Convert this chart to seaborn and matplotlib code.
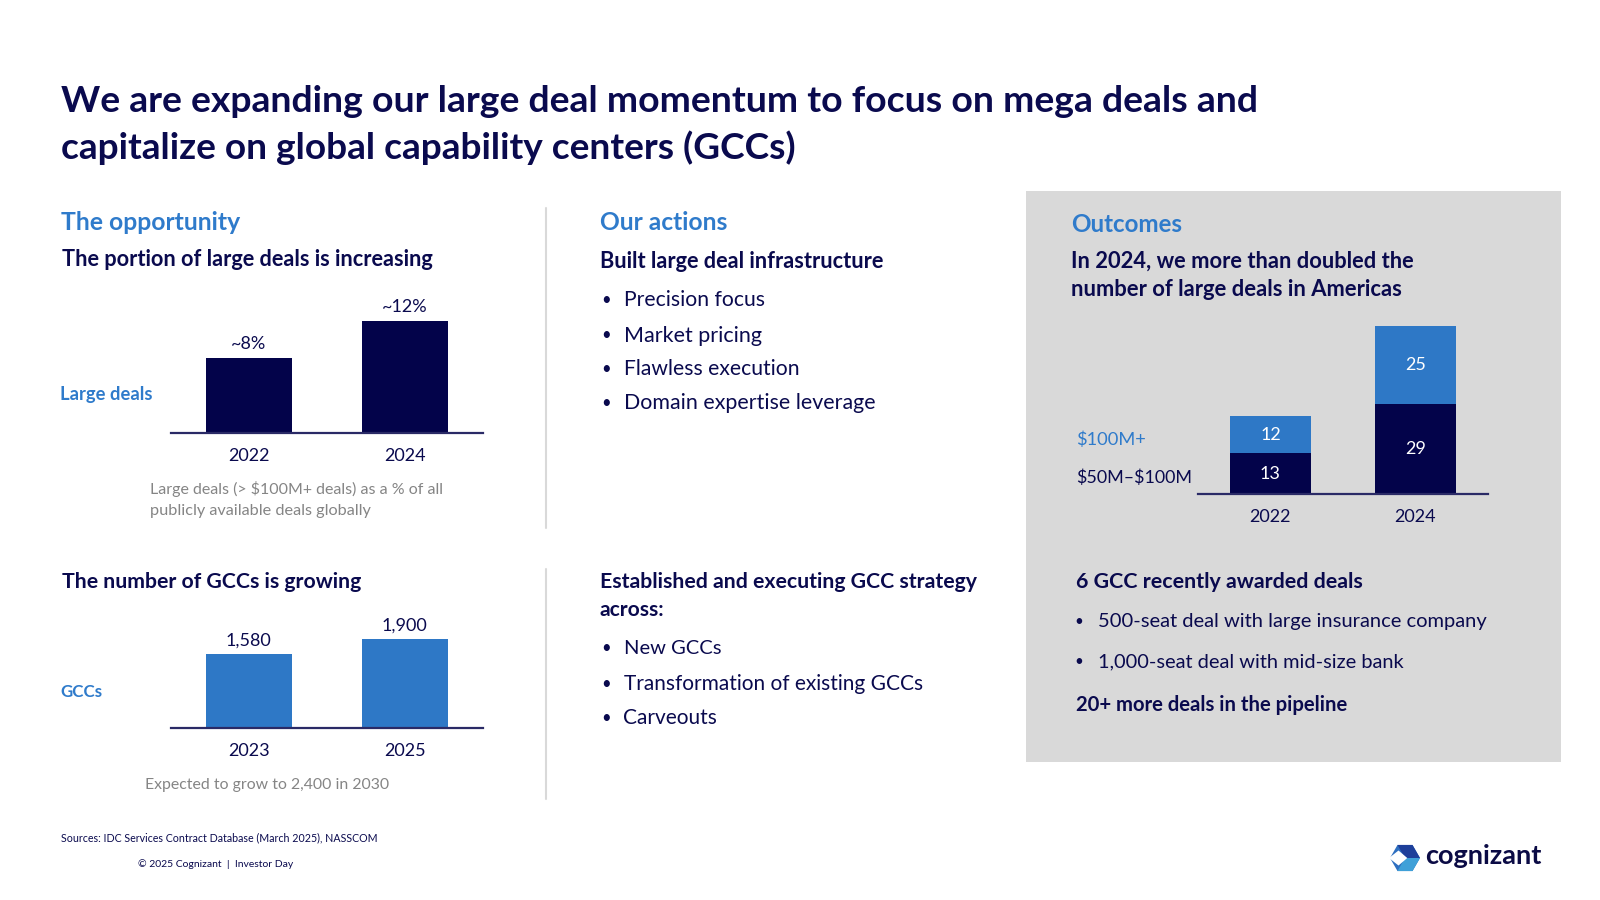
import matplotlib
matplotlib.use("Agg")
import matplotlib.pyplot as plt
import seaborn as sns
from matplotlib.patches import Rectangle, Polygon
from matplotlib.lines import Line2D

# ---------------- data ----------------
large_years = ["2022", "2024"]
large_share = [8, 12]
large_labels = ["~8%", "~12%"]

gcc_years = ["2023", "2025"]
gcc_counts = [1580, 1900]
gcc_labels = ["1,580", "1,900"]

am_years = ["2022", "2024"]
deals_50_100 = [13, 29]
deals_100_plus = [12, 25]

actions_1 = ["Precision focus", "Market pricing", "Flawless execution", "Domain expertise leverage"]
actions_1_w = [141, 138, 175.5, 251]
actions_2 = ["New GCCs", "Transformation of existing GCCs", "Carveouts"]
actions_2_w = [97, 300, 94]
outcomes_bullets = ["500-seat deal with large insurance company", "1,000-seat deal with mid-size bank"]
outcomes_bullets_w = [389, 306]

# ---------------- style ----------------
sns.set_theme(style="white")
plt.rcParams['font.family'] = ['Lato', 'DejaVu Sans']

NAVY = "#03034A"
NAVY_T = "#0A0A4E"
BLUE = "#2E78C6"
BLUE_T = "#2F7BCB"
GREY_T = "#858585"
BOX = "#D9D9D9"
DIV = "#D9D9D9"
LINE = "#2A2A66"

W, H = 1600, 900
fig = plt.figure(figsize=(16, 9), dpi=100)
fig.patch.set_facecolor("white")
renderer = fig.canvas.get_renderer()


def fx(x):
    return x / W


def fy(y):
    return 1 - y / H


def txt(x, y, s, size, color, weight="normal", ha="left", va="center", width=None):
    t = fig.text(fx(x), fy(y), s, fontsize=size, color=color, fontweight=weight,
                 ha=ha, va=va, parse_math=False)
    if width:
        w = t.get_window_extent(renderer).width
        t.set_fontsize(size * width / w)
    return t


def add_ax(left, right, top, bottom):
    ax = fig.add_axes([fx(left), fy(bottom), (right - left) / W, (bottom - top) / H])
    ax.set_facecolor("none")
    ax.set_zorder(2)
    return ax


def style_ax(ax, ytop, pad=11):
    ax.set_xlim(-0.5, 1.5)
    ax.set_ylim(0, ytop)
    for s in ["top", "right", "left"]:
        ax.spines[s].set_visible(False)
    ax.spines["bottom"].set_color(LINE)
    ax.spines["bottom"].set_linewidth(1.6)
    ax.set_yticks([])
    ax.set_xlabel("")
    ax.set_ylabel("")
    ax.tick_params(axis="x", length=0, pad=pad, labelsize=13, labelcolor=NAVY_T)
    ax.grid(False)


# grey outcomes box
fig.add_artist(Rectangle((fx(1026), fy(762)), (1561 - 1026) / W, (762 - 191) / H,
                         transform=fig.transFigure, facecolor=BOX, edgecolor="none", zorder=-5))

# dividers
for (y0, y1) in [(208, 528), (569, 799)]:
    fig.add_artist(Line2D([fx(546), fx(546)], [fy(y0), fy(y1)], color=DIV, lw=1.5,
                          transform=fig.transFigure))

# ---------------- title ----------------
txt(61, 101, "We are expanding our large deal momentum to focus on mega deals and", 25, NAVY_T, "bold", width=1201)
txt(61, 148, "capitalize on global capability centers (GCCs)", 25, NAVY_T, "bold", width=735)

# ---------------- left column ----------------
txt(61, 222, "The opportunity", 16, BLUE_T, "bold", width=180)
txt(62, 260, "The portion of large deals is increasing", 13, NAVY_T, "bold", width=370)
txt(60, 394, "Large deals", 12, BLUE_T, "bold", width=92)

ax1 = add_ax(170.7, 482.7, 280, 432.7)
sns.barplot(x=large_years, y=large_share, color=NAVY, saturation=1, width=0.55,
            linewidth=0, ax=ax1)
style_ax(ax1, 152.7 / 9.35)
ax1.bar_label(ax1.containers[0], labels=large_labels, padding=4, fontsize=13, color=NAVY_T)

txt(150, 489, "Large deals (> $100M+ deals) as a % of all", 10.5, GREY_T, width=294)
txt(150, 511, "publicly available deals globally", 10.5, GREY_T, width=222)

txt(62, 582, "The number of GCCs is growing", 13, NAVY_T, "bold", width=299)
txt(60, 692, "GCCs", 12, BLUE_T, "bold", width=42)

ax2 = add_ax(170.7, 482.7, 590, 727.7)
sns.barplot(x=gcc_years, y=gcc_counts, color=BLUE, saturation=1, width=0.55,
            linewidth=0, ax=ax2)
style_ax(ax2, 137.7 / 0.04675)
ax2.bar_label(ax2.containers[0], labels=gcc_labels, padding=4, fontsize=13, color=NAVY_T)

txt(145, 785, "Expected to grow to 2,400 in 2030", 11, GREY_T, width=243)

# ---------------- middle column ----------------
txt(600, 223, "Our actions", 16, BLUE_T, "bold", width=128)
txt(600, 261, "Built large deal infrastructure", 13, NAVY_T, "bold", width=283)
for y, s, w in zip([300, 335.5, 369, 403.5], actions_1, actions_1_w):
    txt(601, y, "•", 12, NAVY_T)
    txt(623.5, y, s, 14, NAVY_T, width=w)

txt(600, 582, "Established and executing GCC strategy", 13, NAVY_T, "bold", width=377)
txt(600, 610, "across:", 13, NAVY_T, "bold", width=65)
for y, s, w in zip([648, 684, 718], actions_2, actions_2_w):
    txt(601, y, "•", 12, NAVY_T)
    txt(623.5, y, s, 14, NAVY_T, width=w)

# ---------------- right column ----------------
txt(1071, 225, "Outcomes", 16, BLUE_T, "bold", width=112)
txt(1071, 261, "In 2024, we more than doubled the", 13, NAVY_T, "bold", width=342)
txt(1071, 290, "number of large deals in Americas", 13, NAVY_T, "bold", width=330)

txt(1076, 440, "$100M+", 13, BLUE_T, width=70)
txt(1076, 478, "$50M\u2013$100M", 13, NAVY_T, width=116)

ax3 = add_ax(1198, 1487.8, 300, 494)
totals = [a + b for a, b in zip(deals_50_100, deals_100_plus)]
sns.barplot(x=am_years, y=totals, color=BLUE, saturation=1, width=0.563, linewidth=0, ax=ax3)
sns.barplot(x=am_years, y=deals_50_100, color=NAVY, saturation=1, width=0.563, linewidth=0, ax=ax3)
style_ax(ax3, 194 / 3.118)
for i, (lo, hi) in enumerate(zip(deals_50_100, deals_100_plus)):
    ax3.text(i, lo / 2, str(lo), ha="center", va="center", color="white", fontsize=13)
    ax3.text(i, lo + hi / 2, str(hi), ha="center", va="center", color="white", fontsize=13)

txt(1075.5, 582, "6 GCC recently awarded deals", 13, NAVY_T, "bold", width=286)
for y, s, w in zip([621.5, 662], outcomes_bullets, outcomes_bullets_w):
    txt(1074, y, "•", 11, NAVY_T)
    txt(1098, y, s, 13, NAVY_T, width=w)
txt(1075.5, 705, "20+ more deals in the pipeline", 13, NAVY_T, "bold", width=271.5)

# ---------------- footer ----------------
txt(61, 838, "Sources: IDC Services Contract Database (March 2025), NASSCOM", 7.5, NAVY_T, width=312)
txt(138, 864, "\u00a9 2025 Cognizant  |  Investor Day", 7, NAVY_T, width=155)

# logo
cx, cy, r = 1405, 858, 15
hexagon = [(cx - r, cy), (cx - r / 2, cy - r * 0.87), (cx + r / 2, cy - r * 0.87),
           (cx + r, cy), (cx + r / 2, cy + r * 0.87), (cx - r / 2, cy + r * 0.87)]
fig.add_artist(Polygon([(fx(a), fy(b)) for a, b in hexagon], closed=True,
                       facecolor="#2E6FC0", edgecolor="none", transform=fig.transFigure))
upper = [(cx - r / 2, cy - r * 0.87), (cx + r / 2, cy - r * 0.87), (cx + r, cy), (cx, cy)]
fig.add_artist(Polygon([(fx(a), fy(b)) for a, b in upper], closed=True,
                       facecolor="#1E3F9A", edgecolor="none", transform=fig.transFigure))
lower = [(cx, cy), (cx + r, cy), (cx + r / 2, cy + r * 0.87), (cx - r / 2, cy + r * 0.87)]
fig.add_artist(Polygon([(fx(a), fy(b)) for a, b in lower], closed=True,
                       facecolor="#3FA0D8", edgecolor="none", transform=fig.transFigure))
notch = [(cx - r - 1, cy), (cx - r / 2 + 1, cy - r * 0.5), (cx + r * 0.15, cy), (cx - r / 2 + 1, cy + r * 0.5)]
fig.add_artist(Polygon([(fx(a), fy(b)) for a, b in notch], closed=True,
                       facecolor="white", edgecolor="none", transform=fig.transFigure))
txt(1425, 856, "cognizant", 17, "#0B0B45", "bold", width=117)

fig.savefig("out.png", dpi=100, facecolor="white")
